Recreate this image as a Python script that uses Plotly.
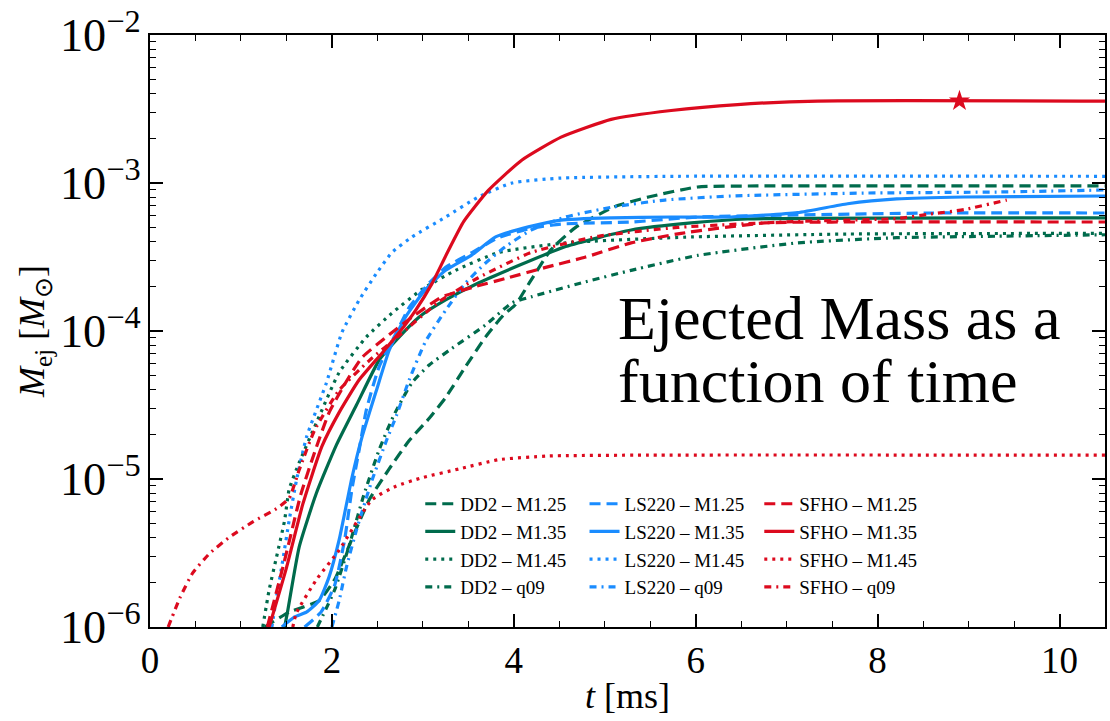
import numpy as np
import plotly.graph_objects as go

# ---- ejected mass histories, t in ms, M_ej in solar masses ----
t_dd2_m125 = [1.26, 1.53, 1.86, 2.03, 2.19, 2.41, 2.63, 2.85, 3.07, 3.25, 3.47, 3.69, 3.89, 4.02, 4.19, 4.41, 4.68, 5.11, 5.48, 6.02, 6.68, 10.5]
m_dd2_m125 = [1e-6, 1.26e-6, 1.51e-6, 2.09e-6, 3.55e-6, 7.24e-6, 1.17e-5, 1.82e-5, 2.57e-5, 3.55e-5, 5.75e-5, 9.12e-5, 1.29e-4, 1.51e-4, 2.21e-4, 3.55e-4, 5.01e-4, 6.92e-4, 8.04e-4, 9.40e-4, 9.55e-4, 9.55e-4]

t_dd2_m135 = [1.48, 1.51, 1.64, 1.83, 2.05, 2.27, 2.52, 2.71, 2.96, 3.25, 3.61, 4.57, 5.29, 5.95, 6.57, 10.5]
m_dd2_m135 = [1e-6, 1.245e-6, 3.47e-6, 8.04e-6, 1.70e-5, 3.16e-5, 6.37e-5, 8.71e-5, 1.245e-4, 1.62e-4, 2.11e-4, 3.72e-4, 4.81e-4, 5.37e-4, 5.71e-4, 5.81e-4]

t_dd2_m145 = [1.24, 1.31, 1.39, 1.48, 1.53, 1.64, 1.83, 2.08, 2.38, 2.66, 2.99, 3.36, 3.83, 4.57, 5.95, 7.67, 10.5]
m_dd2_m145 = [1e-6, 1.78e-6, 2.95e-6, 5.25e-6, 8.51e-6, 1.29e-5, 2.40e-5, 5.25e-5, 9.12e-5, 1.32e-4, 1.91e-4, 2.57e-4, 3.39e-4, 3.94e-4, 4.32e-4, 4.52e-4, 4.57e-4]

t_dd2_q09 = [1.84, 2.03, 2.19, 2.35, 2.52, 2.68, 2.88, 3.07, 3.29, 3.69, 3.98, 4.19, 4.74, 5.29, 6.02, 7.12, 8.21, 9.31, 10.5]
m_dd2_q09 = [1e-6, 1.78e-6, 3.55e-6, 7.76e-6, 1.58e-5, 2.69e-5, 4.47e-5, 5.89e-5, 7.41e-5, 1.10e-4, 1.55e-4, 1.70e-4, 2.11e-4, 2.57e-4, 3.24e-4, 3.94e-4, 4.27e-4, 4.37e-4, 4.47e-4]

t_ls220_m125 = [1.70, 1.88, 2.03, 2.14, 2.22, 2.30, 2.38, 2.52, 2.71, 2.85, 3.07, 3.25, 3.54, 3.83, 4.16, 4.52, 5.29, 6.02, 7.12, 8.58, 10.5]
m_ls220_m125 = [1e-6, 1.26e-6, 1.91e-6, 3.89e-6, 8.51e-6, 1.58e-5, 2.95e-5, 5.75e-5, 9.77e-5, 1.445e-4, 2.11e-4, 2.69e-4, 3.39e-4, 4.27e-4, 4.90e-4, 5.28e-4, 5.45e-4, 5.89e-4, 6.08e-4, 6.27e-4, 6.27e-4]

t_ls220_m135 = [1.45, 1.59, 1.72, 1.86, 1.97, 2.08, 2.22, 2.33, 2.49, 2.63, 2.81, 3.03, 3.25, 3.54, 3.80, 4.16, 4.52, 5.07, 5.73, 6.39, 7.12, 7.67, 8.21, 8.95, 10.5]
m_ls220_m135 = [1e-6, 1.17e-6, 1.26e-6, 1.51e-6, 2.19e-6, 3.89e-6, 1.02e-5, 1.91e-5, 3.98e-5, 7.41e-5, 1.245e-4, 1.91e-4, 2.57e-4, 3.27e-4, 4.32e-4, 5.05e-4, 5.62e-4, 5.81e-4, 5.89e-4, 5.89e-4, 6.31e-4, 7.24e-4, 7.80e-4, 8.04e-4, 8.17e-4]

t_ls220_m145 = [1.34, 1.39, 1.46, 1.53, 1.61, 1.72, 1.94, 2.11, 2.30, 2.49, 2.66, 2.88, 3.25, 3.61, 3.98, 4.52, 5.80, 10.5]
m_ls220_m145 = [1e-6, 1.58e-6, 2.82e-6, 5.25e-6, 9.77e-6, 1.91e-5, 4.47e-5, 9.77e-5, 1.62e-4, 2.45e-4, 3.39e-4, 4.32e-4, 5.89e-4, 8.04e-4, 1.0e-3, 1.08e-3, 1.11e-3, 1.11e-3]

t_ls220_q09 = [2.0, 2.08, 2.16, 2.27, 2.44, 2.60, 2.71, 2.85, 3.03, 3.25, 3.47, 3.69, 3.91, 4.19, 4.57, 5.11, 5.66, 6.39, 7.85, 9.31, 10.5]
m_ls220_q09 = [1e-6, 1.51e-6, 2.54e-6, 4.52e-6, 9.77e-6, 1.82e-5, 2.69e-5, 4.68e-5, 8.51e-5, 1.38e-4, 2.11e-4, 2.88e-4, 3.72e-4, 4.81e-4, 5.89e-4, 6.92e-4, 7.67e-4, 8.17e-4, 8.55e-4, 8.69e-4, 8.97e-4]

t_sfho_m125 = [1.29, 1.48, 1.66, 1.82, 1.97, 2.15, 2.33, 2.60, 2.88, 3.21, 3.58, 3.94, 4.35, 4.79, 5.29, 5.84, 6.76, 8.2, 10.5]
m_sfho_m125 = [1e-6, 2.82e-6, 7.94e-6, 1.58e-5, 2.82e-5, 4.47e-5, 6.61e-5, 9.12e-5, 1.24e-4, 1.70e-4, 2.00e-4, 2.29e-4, 2.69e-4, 3.16e-4, 3.94e-4, 4.57e-4, 5.37e-4, 5.45e-4, 5.45e-4]

t_sfho_m135 = [1.31, 1.50, 1.68, 1.89, 2.08, 2.30, 2.55, 2.74, 2.92, 3.10, 3.27, 3.45, 3.72, 4.09, 4.52, 5.07, 5.73, 6.46, 7.34, 10.5]
m_sfho_m135 = [1e-6, 2.51e-6, 6.76e-6, 1.66e-5, 2.82e-5, 4.68e-5, 7.08e-5, 9.77e-5, 1.38e-4, 2.09e-4, 3.39e-4, 5.50e-4, 8.91e-4, 1.43e-3, 2.04e-3, 2.69e-3, 3.09e-3, 3.39e-3, 3.58e-3, 3.58e-3]

t_sfho_m145 = [1.57, 1.61, 1.83, 2.08, 2.44, 2.70, 2.99, 3.40, 3.83, 4.38, 5.48, 10.5]
m_sfho_m145 = [1e-6, 1.245e-6, 2.09e-6, 3.31e-6, 7.24e-6, 8.91e-6, 1.02e-5, 1.17e-5, 1.35e-5, 1.43e-5, 1.45e-5, 1.45e-5]

t_sfho_q09 = [0.20, 0.33, 0.47, 0.66, 0.88, 1.13, 1.39, 1.53, 1.64, 1.81, 2.08, 2.41, 2.74, 3.18, 3.61, 4.19, 4.93, 5.80, 7.12, 8.21, 8.58, 8.95, 9.42]
m_sfho_q09 = [1e-6, 1.58e-6, 2.32e-6, 3.16e-6, 4.07e-6, 5.13e-6, 6.31e-6, 7.41e-6, 1.15e-5, 2.14e-5, 3.98e-5, 6.31e-5, 9.33e-5, 1.58e-4, 2.29e-4, 3.39e-4, 4.37e-4, 5.01e-4, 5.50e-4, 5.75e-4, 6.17e-4, 6.61e-4, 7.67e-4]

# time at which the SFHO - M1.35 run is marked
t_star = [8.9]

eos_names = ["DD2", "LS220", "SFHO"]
run_names = ["M1.25", "M1.35", "M1.45", "q09"]

GREEN = "#006b4c"
BLUE = "#1a8cff"
RED = "#dc0a1e"
eos_colors = {"DD2": GREEN, "LS220": BLUE, "SFHO": RED}
run_dash = {"M1.25": "11px,6px", "M1.35": "solid", "M1.45": "3px,5px", "q09": "7px,5px,2px,5px"}

series = {
    ("DD2", "M1.25"): (t_dd2_m125, m_dd2_m125),
    ("DD2", "M1.35"): (t_dd2_m135, m_dd2_m135),
    ("DD2", "M1.45"): (t_dd2_m145, m_dd2_m145),
    ("DD2", "q09"): (t_dd2_q09, m_dd2_q09),
    ("LS220", "M1.25"): (t_ls220_m125, m_ls220_m125),
    ("LS220", "M1.35"): (t_ls220_m135, m_ls220_m135),
    ("LS220", "M1.45"): (t_ls220_m145, m_ls220_m145),
    ("LS220", "q09"): (t_ls220_q09, m_ls220_q09),
    ("SFHO", "M1.25"): (t_sfho_m125, m_sfho_m125),
    ("SFHO", "M1.35"): (t_sfho_m135, m_sfho_m135),
    ("SFHO", "M1.45"): (t_sfho_m145, m_sfho_m145),
    ("SFHO", "q09"): (t_sfho_q09, m_sfho_q09),
}

SERIF = "Liberation Serif"
fig = go.Figure()

legend_ids = {"DD2": "legend", "LS220": "legend2", "SFHO": "legend3"}
for eos in eos_names:
    for run in run_names:
        t, m = series[(eos, run)]
        fig.add_trace(go.Scatter(
            x=t, y=m, mode="lines",
            name=f"{eos} \u2013 {run}",
            line=dict(color=eos_colors[eos], width=3.2, dash=run_dash[run],
                      shape="spline", smoothing=0.5),
            legend=legend_ids[eos],
        ))

# star on the SFHO - M1.35 curve, placed on the curve itself
star_y = 10 ** np.interp(t_star, t_sfho_m135, np.log10(m_sfho_m135))
fig.add_trace(go.Scatter(
    x=t_star, y=star_y, mode="markers", showlegend=False,
    marker=dict(symbol="star", size=16, color=RED, line=dict(width=0)),
))

leg_common = dict(
    bgcolor="rgba(0,0,0,0)", borderwidth=0,
    font=dict(family=SERIF, size=19, color="black"),
    xanchor="left", yanchor="top", y=0.24, tracegroupgap=0,
    itemwidth=30,
)
fig.update_layout(
    legend=dict(x=0.283, **leg_common),
    legend2=dict(x=0.455, **leg_common),
    legend3=dict(x=0.638, **leg_common),
)

axis_common = dict(
    showline=True, linecolor="black", linewidth=2, mirror="ticks",
    ticks="inside", ticklen=13, tickwidth=1.5, tickcolor="black",
    showgrid=False, zeroline=False,
    tickfont=dict(family=SERIF, size=37, color="black"),
)

fig.update_xaxes(
    range=[0, 10.5], dtick=2, tick0=0,
    minor=dict(ticks="inside", ticklen=6, dtick=0.5, tickcolor="black", tickwidth=1),
    title=dict(text="<i>t</i> [ms]", font=dict(family=SERIF, size=36, color="black"), standoff=2),
    **axis_common,
)
fig.update_yaxes(
    type="log", range=[-6, -2], dtick=1, exponentformat="power",
    minor=dict(ticks="inside", ticklen=6, dtick="D1", tickcolor="black", tickwidth=1),
    title=dict(text="<i>M</i><sub>ej</sub> [<i>M</i><sub>\u2299</sub>]",
               font=dict(family=SERIF, size=36, color="black"), standoff=4),
    **axis_common,
)

fig.add_annotation(
    x=0.488, y=0.522, xref="paper", yref="paper", xanchor="left", yanchor="middle",
    text="Ejected Mass as a", showarrow=False,
    font=dict(family=SERIF, size=62, color="black"),
)
fig.add_annotation(
    x=0.488, y=0.415, xref="paper", yref="paper", xanchor="left", yanchor="middle",
    text="function of time", showarrow=False,
    font=dict(family=SERIF, size=62, color="black"),
)

fig.update_layout(
    width=1110, height=721,
    margin=dict(l=150, r=3, t=35, b=94),
    plot_bgcolor="white", paper_bgcolor="white",
)

fig.write_html("out.html")
